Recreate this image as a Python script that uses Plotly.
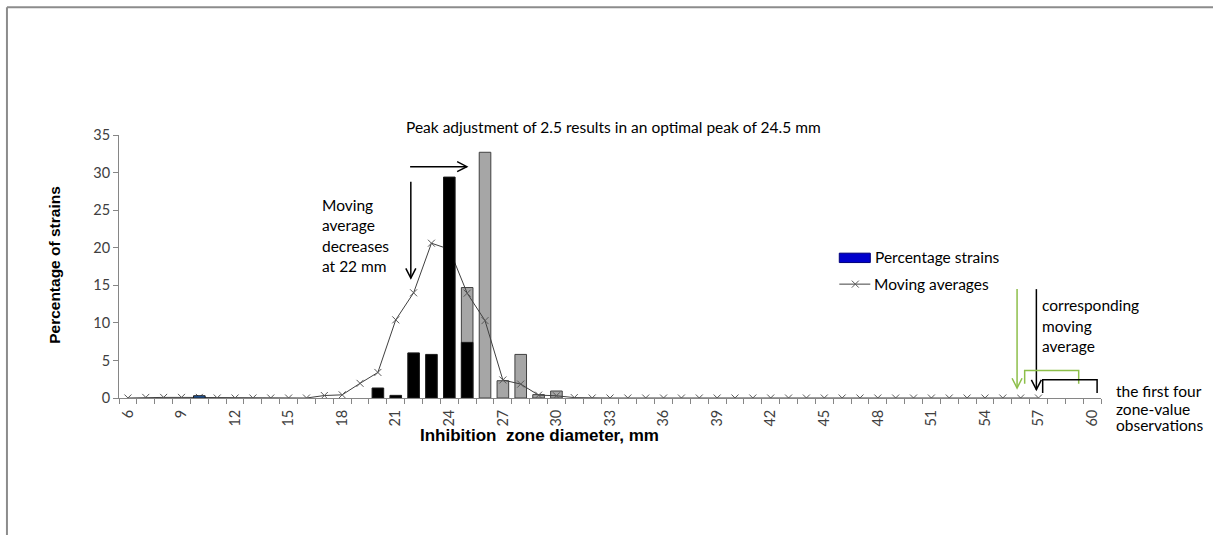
import plotly.graph_objects as go

# ---------------- data ----------------
obs_zones = [10, 20, 21, 22, 23, 24, 25]
obs_pct = [0.3, 1.33, 0.35, 6.0, 5.8, 29.4, 7.4]
obs_colors = ["#1F5FAF", "#000000", "#000000", "#000000", "#000000", "#000000", "#000000"]

adj_zones = [25, 26, 27, 28, 29, 30]
adj_pct = [14.7, 32.7, 2.3, 5.8, 0.45, 0.93]

ma_zones = list(range(6, 58))
ma_values = [0, 0.08, 0.08, 0.08, 0.08, 0, 0, 0, 0, 0, 0,
             0.33, 0.42, 1.95, 3.4, 10.4, 14.0, 20.6, 19.8, 13.95, 10.3,
             2.4, 1.85, 0.38, 0.3, 0.05,
             0, 0, 0, 0, 0, 0, 0, 0, 0, 0, 0, 0, 0, 0, 0, 0, 0, 0, 0, 0,
             0, 0, 0, 0, 0, 0]

x_tickvals = list(range(6, 61, 3))
y_tickvals = [0, 5, 10, 15, 20, 25, 30, 35]

# ---------------- geometry helpers (pixel -> paper) ----------------
W, H = 1213, 535
L, R, T, B = 119, 1100.6, 135, 398.3


def px(X):
    return (X - L) / (R - L)


def py(Y):
    return (B - Y) / (B - T)


def path(points):
    return "M " + " L ".join(f"{px(x):.5f},{py(y):.5f}" for x, y in points)


FONT = "Lato"
TXT = "#000000"
TS = 15.5

fig = go.Figure()

fig.add_trace(go.Bar(
    x=adj_zones, y=adj_pct, width=0.65,
    marker=dict(color="#A6A6A6", line=dict(color="#404040", width=1)),
    name="Adjusted", showlegend=False, hoverinfo="x+y",
))

fig.add_trace(go.Scatter(
    x=ma_zones, y=ma_values, mode="lines+markers",
    line=dict(color="#404040", width=1),
    marker=dict(symbol="x-thin", size=7, line=dict(color="#595959", width=1)),
    name="Moving averages", showlegend=False,
))

fig.add_trace(go.Bar(
    x=obs_zones, y=obs_pct, width=0.65,
    marker=dict(color=obs_colors, line=dict(color="#1a1a1a", width=1)),
    name="Percentage strains", showlegend=False,
    xaxis="x2", yaxis="y2",
))

shapes = []
# outer frame (cropped chart border)
shapes.append(dict(type="line", xref="paper", yref="paper",
                   x0=px(7), x1=px(7), y0=py(7), y1=py(540),
                   line=dict(color="#8C8C8C", width=2)))
shapes.append(dict(type="line", xref="paper", yref="paper",
                   x0=px(7), x1=px(1220), y0=py(7), y1=py(7),
                   line=dict(color="#8C8C8C", width=2)))


def add_path(pts, color, width=1.5):
    shapes.append(dict(type="path", xref="paper", yref="paper", path=path(pts),
                       line=dict(color=color, width=width)))


# right arrow (peak adjustment)
add_path([(410, 166.7), (466.7, 166.7)], "#000000")
add_path([(457, 161.7), (466.7, 166.7), (457, 171.7)], "#000000")
# down arrow (moving average decreases)
add_path([(410.7, 181.7), (410.7, 278.3)], "#000000")
add_path([(405.7, 268.5), (410.7, 278.3), (415.7, 268.5)], "#000000")
# green arrow
add_path([(1016.7, 289.3), (1016.7, 388.3)], "#8DBF4A")
add_path([(1011.7, 378.5), (1016.7, 388.3), (1021.7, 378.5)], "#8DBF4A")
# black arrow
add_path([(1036, 289.3), (1036, 390)], "#000000")
add_path([(1031, 380.2), (1036, 390), (1041, 380.2)], "#000000")
# brackets
add_path([(1024.3, 384), (1024.3, 370.7), (1078.3, 370.7), (1078.3, 384)], "#8DBF4A")
add_path([(1042.3, 393.3), (1042.3, 380), (1096.7, 380), (1096.7, 393.3)], "#000000")

# manual legend
shapes.append(dict(type="rect", xref="paper", yref="paper",
                   x0=px(839), x1=px(870), y0=py(262.7), y1=py(253.3),
                   fillcolor="#0000CC", line=dict(color="#00007A", width=1)))
add_path([(839, 284.3), (870, 284.3)], "#404040", 1)
add_path([(851.5, 280.8), (858.5, 287.8)], "#595959", 1)
add_path([(851.5, 287.8), (858.5, 280.8)], "#595959", 1)

annotations = []


def text(x, y, s, xanchor="left", size=TS, bold=False, family=FONT, angle=0):
    annotations.append(dict(
        xref="paper", yref="paper", x=px(x), y=py(y), text=f"<b>{s}</b>" if bold else s,
        showarrow=False, xanchor=xanchor, yanchor="middle", textangle=angle,
        font=dict(family=family, size=size, color=TXT),
    ))


text(613.4, 127, "Peak adjustment of 2.5 results in an optimal peak of 24.5 mm", "center")
for s, y in zip(["Moving", "average", "decreases", "at 22 mm"], [205, 225.5, 245.7, 266]):
    text(320, y, s)
for s, y in zip(["corresponding", "moving", "average"], [305, 326, 346]):
    text(1040, y, s)
for s, y in zip(["the first four", "zone-value", "observations"], [391.7, 409, 425.5]):
    text(1114, y, s)
text(873, 257.5, "Percentage strains")
text(872, 284.3, "Moving averages")
text(539, 436, "Inhibition\u00a0 zone diameter, mm", "center", 17, True, "Liberation Sans")
text(55, 265, "Percentage of strains", "center", 15.5, True, "Liberation Sans", -90)

axis_font = dict(family=FONT, size=14.5, color="#404040")

fig.update_layout(
    width=W, height=H,
    margin=dict(l=L, r=W - R, t=T, b=H - B, pad=0),
    paper_bgcolor="white", plot_bgcolor="white",
    showlegend=False, barmode="overlay",
    shapes=shapes, annotations=annotations,
    xaxis=dict(
        range=[5.5, 60.5], tickmode="array", tickvals=x_tickvals,
        ticktext=[str(v) for v in x_tickvals], tickangle=-90,
        ticks="outside", ticklen=5, tickcolor="rgba(0,0,0,0)",
        minor=dict(tickmode="linear", tick0=5.5, dtick=1, ticks="outside",
                   ticklen=5, tickcolor="#868686", showgrid=False),
        showline=True, linecolor="#868686", linewidth=1,
        showgrid=False, zeroline=False, tickfont=axis_font,
    ),
    yaxis=dict(
        range=[0, 35], tickmode="array", tickvals=y_tickvals,
        ticks="outside", ticklen=5, tickcolor="#868686",
        showline=True, linecolor="#868686", linewidth=1,
        showgrid=False, zeroline=False, tickfont=axis_font,
    ),
    xaxis2=dict(range=[5.5, 60.5], overlaying="x", anchor="y2", visible=False),
    yaxis2=dict(range=[0, 35], overlaying="y", anchor="x2", visible=False),
)

fig.write_html("out.html", config={"displayModeBar": False},
               post_script="document.body.style.margin='0';")
